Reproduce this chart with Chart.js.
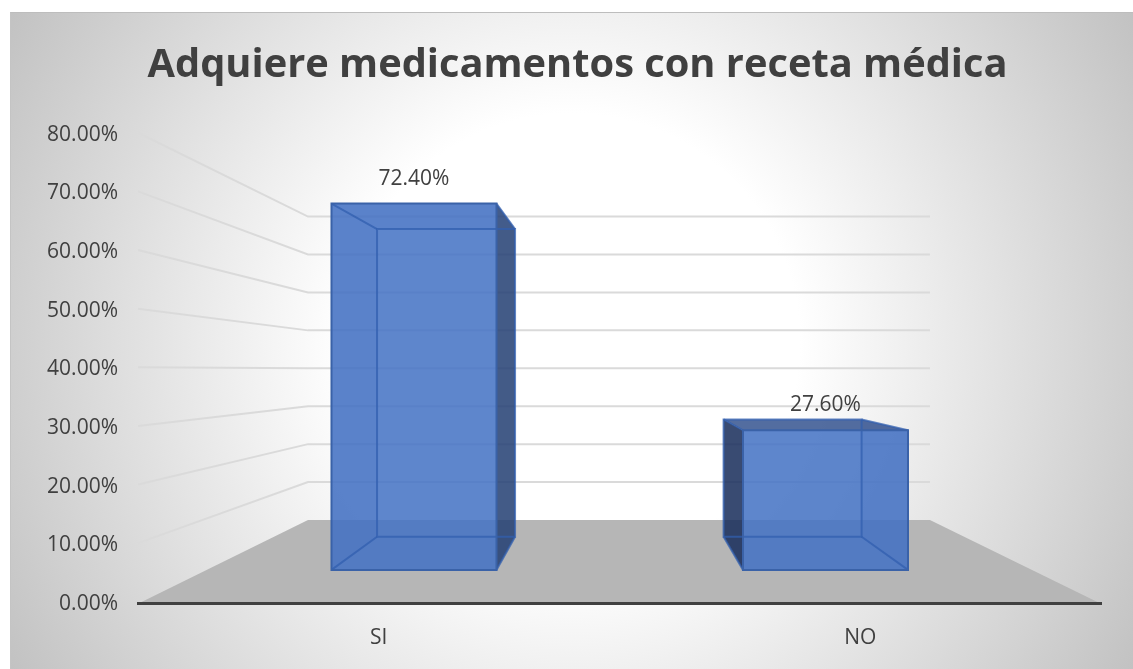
<!DOCTYPE html>
<html>
<head>
<meta charset="utf-8">
<script src="https://cdn.jsdelivr.net/npm/chart.js@4"></script>
<style>
  html, body { margin: 0; padding: 0; background: #fff; overflow: hidden; }
  #box {
    position: absolute; left: 10px; top: 12px; width: 1123px; height: 657px;
    box-sizing: border-box; border-top: 1px solid #bdbdbd; border-left: 1px solid #c4c4c4;
    background: radial-gradient(circle 650px at 50% 50%, #fff 35%, #c2c2c2 100%);
  }
</style>
</head>
<body>
<div id="box"><canvas id="chart"></canvas></div>
<script>
var categories = ["SI", "NO"];
var porcentajes = [72.4, 27.6];
var tickStep = 10;
var tickMax = 80;

// the three depth planes of the 3d view are hidden axes
var lineColor = "rgba(50,95,175,0.75)";
var sideColor = "rgba(37,64,115,0.85)";
var leftColor = "rgba(25,45,90,0.85)";
var topColor = "rgba(55,85,145,0.85)";
var behindColor = "rgba(60,90,150,0.2)";
var bottomColor = "rgba(50,85,160,0.1)";

function pct(v) { return v.toFixed(2) + "%"; }

function poly(ctx, pts, fill, stroke) {
    ctx.beginPath();
    pts.forEach(function (p, i) { if (i == 0) ctx.moveTo(p[0], p[1]); else ctx.lineTo(p[0], p[1]); });
    ctx.closePath();
    if (fill) { ctx.fillStyle = fill; ctx.fill(); }
    if (stroke) { ctx.strokeStyle = stroke; ctx.lineWidth = 2; ctx.stroke(); }
}

function box(chart, i) {
    var f = chart.getDatasetMeta(0).data[i];
    var b = chart.getDatasetMeta(1).data[i];
    return {
        fl: f.x - f.width / 2, fr: f.x + f.width / 2, ft: f.y, fb: f.base,
        bl: b.x - b.width / 2, br: b.x + b.width / 2, bt: b.y, bb: b.base
    };
}

var room = {
    id: "room",
    afterLayout: function (chart) {
        // title is centred a bit right of the plot in the original
        chart.titleBlock.left += 43;
    },
    beforeDatasetsDraw: function (chart) {
        var ctx = chart.ctx, s = chart.scales;
        var wl = s.xWall.getPixelForValue(-0.5), wr = s.xWall.getPixelForValue(1.5);
        var y0 = s.y.getPixelForValue(0), w0 = s.yWall.getPixelForValue(0);
        ctx.save();
        ctx.lineWidth = 2;
        ctx.strokeStyle = "#dadada";
        for (var v = tickStep; v <= tickMax; v += tickStep) {
            var wy = s.yWall.getPixelForValue(v);
            ctx.beginPath();
            ctx.moveTo(s.x.left, s.y.getPixelForValue(v) - 2);
            ctx.lineTo(wl, wy);
            ctx.lineTo(wr, wy);
            ctx.stroke();
        }
        poly(ctx, [[s.x.left, y0], [s.x.right, y0], [wr, w0], [wl, w0]], "#b6b6b6");
        ctx.restore();
    },
    afterDatasetDraw: function (chart, args) {
        if (args.index != 1) return;
        var ctx = chart.ctx;
        ctx.save();
        categories.forEach(function (c, i) {
            var q = box(chart, i);
            // faces that sit behind the front face stay pale, the ones outside it go dark
            poly(ctx, [[q.fl, q.fb], [q.fr, q.fb], [q.br, q.bb], [q.bl, q.bb]], bottomColor);
            poly(ctx, [[q.fl, q.ft], [q.fl, q.fb], [q.bl, q.bb], [q.bl, q.bt]], q.bl < q.fl ? leftColor : behindColor);
            poly(ctx, [[q.fr, q.ft], [q.fr, q.fb], [q.br, q.bb], [q.br, q.bt]], q.br > q.fr ? sideColor : behindColor);
            poly(ctx, [[q.fl, q.ft], [q.fr, q.ft], [q.br, q.bt], [q.bl, q.bt]], q.bt < q.ft ? topColor : behindColor);
        });
        ctx.restore();
    },
    afterDatasetsDraw: function (chart) {
        var ctx = chart.ctx;
        ctx.save();
        categories.forEach(function (c, i) {
            var q = box(chart, i);
            poly(ctx, [[q.bl, q.bt], [q.br, q.bt], [q.br, q.bb], [q.bl, q.bb]], null, lineColor);
            poly(ctx, [[q.fl, q.ft], [q.bl, q.bt]], null, lineColor);
            poly(ctx, [[q.fr, q.ft], [q.br, q.bt]], null, lineColor);
            poly(ctx, [[q.fl, q.fb], [q.bl, q.bb]], null, lineColor);
            poly(ctx, [[q.fr, q.fb], [q.br, q.bb]], null, lineColor);
            poly(ctx, [[q.fl, q.ft], [q.fr, q.ft], [q.fr, q.fb], [q.fl, q.fb]], null, "#3a62a8");

            ctx.fillStyle = "#404040";
            ctx.font = "21px 'Open Sans'";
            ctx.textAlign = "center";
            ctx.textBaseline = "middle";
            ctx.fillText(pct(porcentajes[i]), (q.fl + q.fr) / 2, q.ft - 25);
        });
        ctx.restore();
    }
};

function points(values) {
    return values.map(function (v, i) { return { x: i, y: v }; });
}

function hidden(axis, min, max) {
    return { axis: axis, type: "linear", display: false, offset: false, min: min, max: max };
}

new Chart(document.getElementById("chart"), {
    type: "bar",
    data: {
        labels: categories,
        datasets: [{
            label: "frente",
            data: points(porcentajes),
            xAxisID: "xFront", yAxisID: "yFront",
            backgroundColor: "rgba(68,114,196,0.85)",
            barThickness: 165,
            grouped: false
        }, {
            label: "fondo",
            data: points(porcentajes),
            xAxisID: "xBack", yAxisID: "yBack",
            backgroundColor: "rgba(68,114,196,0.06)",
            barThickness: 138,
            grouped: false
        }]
    },
    plugins: [room],
    options: {
        responsive: true,
        maintainAspectRatio: false,
        animation: false,
        layout: { padding: { right: 32, top: 29, bottom: 4 } },
        plugins: {
            legend: { display: false },
            tooltip: { enabled: false },
            title: {
                display: true,
                text: "Adquiere medicamentos con receta médica",
                color: "#404040",
                font: { family: "'Open Sans'", size: 39.8, weight: "bold" },
                padding: { top: 0, bottom: 45 }
            }
        },
        scales: {
            x: {
                type: "category",
                offset: true,
                grid: { display: false },
                border: { display: true, color: "#404040", width: 3, z: 1 },
                ticks: { color: "#404040", font: { family: "'Open Sans'", size: 21 }, padding: 14 }
            },
            y: {
                min: 0,
                max: tickMax,
                grid: { display: false, drawTicks: false },
                border: { display: false },
                ticks: {
                    stepSize: tickStep,
                    color: "#404040",
                    font: { family: "'Open Sans'", size: 21 },
                    padding: 20,
                    callback: function (v) { return pct(v); }
                },
                afterFit: function (axis) { axis.width = 127; }
            },
            xFront: hidden("x", -0.6707, 1.6695),
            xBack: hidden("x", -0.889, 1.890),
            xWall: hidden("x", -1.0466, 2.05),
            yFront: hidden("y", -6.7, 86.0),
            yBack: hidden("y", -15.77, 94.6),
            yWall: hidden("y", -22.1, 101.58)
        }
    }
});
</script>
</body>
</html>
